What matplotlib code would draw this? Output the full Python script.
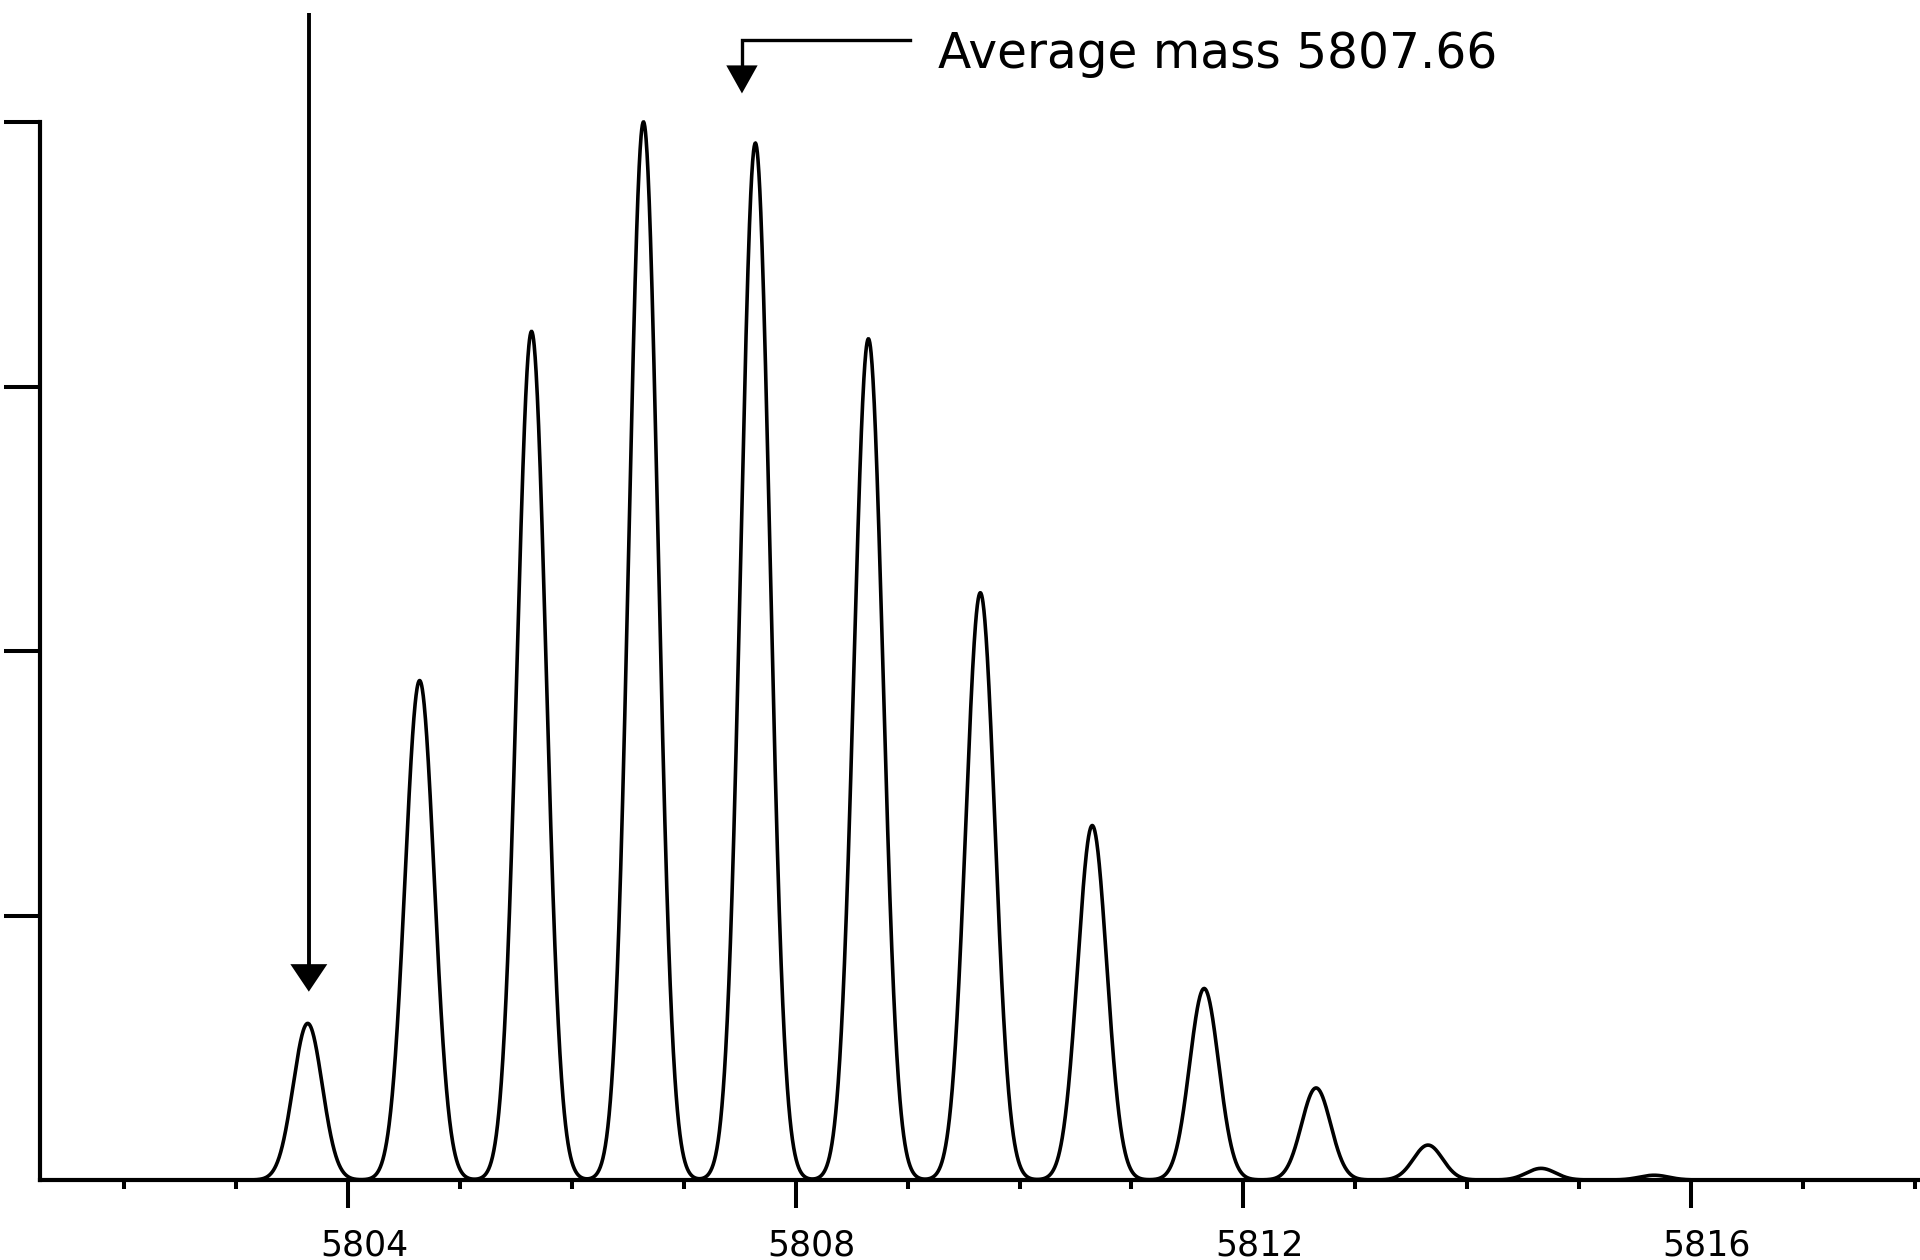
import numpy as np
import matplotlib
matplotlib.use("Agg")
import matplotlib.pyplot as plt
from matplotlib.transforms import ScaledTranslation

# ---- data ----
peak_mass = [5803.64, 5804.64, 5805.64, 5806.64, 5807.64, 5808.65, 5809.65,
             5810.65, 5811.65, 5812.65, 5813.65, 5814.66, 5815.67]
peak_height = [14.8, 47.2, 80.2, 100.0, 98.0, 79.5, 55.5,
               33.5, 18.1, 8.7, 3.3, 1.1, 0.45]
peak_sigma = 0.13          # Da, peak width of the profile
major_ticks = [5804, 5808, 5812, 5816]
minor_ticks = list(range(5802, 5819))
y_ticks = [25, 50, 75, 100]
x_range = (5801.248, 5818.046)
y_range = (0, 100)

mono_mass_arrow = dict(x=5803.65, y_top=110.3, y_tip=17.8)
avg_arrow = dict(x=5807.52, y_line=107.75, y_tip=102.7, x_end=5809.02)
avg_label = "Average mass 5807.66"
avg_label_pos = (5809.27, 105.1)

# ---- figure ----
W, H, DPI = 1920, 1260, 100
fig = plt.figure(figsize=(W / DPI, H / DPI), dpi=DPI)
ax = fig.add_axes([40 / W, 80 / H, 1 - 40 / W, (1180 - 122) / H])

mz = np.linspace(x_range[0], x_range[1], 6000)
inten = np.zeros_like(mz)
for c, h in zip(peak_mass, peak_height):
    inten += h * np.exp(-0.5 * ((mz - c) / peak_sigma) ** 2)
ax.plot(mz, inten, color="black", lw=2.6, clip_on=False, solid_joinstyle="miter")

ax.set_xlim(*x_range)
ax.set_ylim(*y_range)

for s in ["top", "right"]:
    ax.spines[s].set_visible(False)
for s in ["left", "bottom"]:
    ax.spines[s].set_linewidth(3.0)

ax.set_xticks(major_ticks)
ax.set_xticks(minor_ticks, minor=True)
ax.set_xticklabels([str(t) for t in major_ticks])
ax.tick_params(axis="x", which="major", direction="out", length=20, width=2.9,
               pad=15, labelsize=25)
ax.tick_params(axis="x", which="minor", direction="out", length=6.5, width=2.9)
ax.set_yticks(y_ticks)
ax.set_yticklabels([])
ax.tick_params(axis="y", which="major", direction="out", length=26, width=2.9)

off = ScaledTranslation(16 / DPI, 0, fig.dpi_scale_trans)
for lab in ax.get_xticklabels():
    lab.set_transform(lab.get_transform() + off)
    lab.set_fontfamily(["DejaVu Sans"])

# arrow to monoisotopic peak
a = mono_mass_arrow
ax.plot([a["x"], a["x"]], [a["y_top"], a["y_tip"] + 2.0], color="black", lw=2.8,
        clip_on=False, solid_capstyle="butt")
hw, hh = 0.165, 2.6
ax.fill([a["x"] - hw, a["x"] + hw, a["x"]], [a["y_tip"] + hh, a["y_tip"] + hh, a["y_tip"]],
        color="black", clip_on=False, lw=0)

# bent arrow for average mass
b = avg_arrow
ax.plot([b["x_end"], b["x"], b["x"]], [b["y_line"], b["y_line"], b["y_tip"] + 2.0],
        color="black", lw=2.4, clip_on=False, solid_joinstyle="miter")
hw2, hh2 = 0.14, 2.65
ax.fill([b["x"] - hw2, b["x"] + hw2, b["x"]], [b["y_tip"] + hh2, b["y_tip"] + hh2, b["y_tip"]],
        color="black", clip_on=False, lw=0)

ax.text(avg_label_pos[0], avg_label_pos[1], avg_label, fontsize=35,
        family=["DejaVu Sans"], ha="left", va="baseline", clip_on=False)

fig.savefig("out.png", dpi=DPI, facecolor="white")
